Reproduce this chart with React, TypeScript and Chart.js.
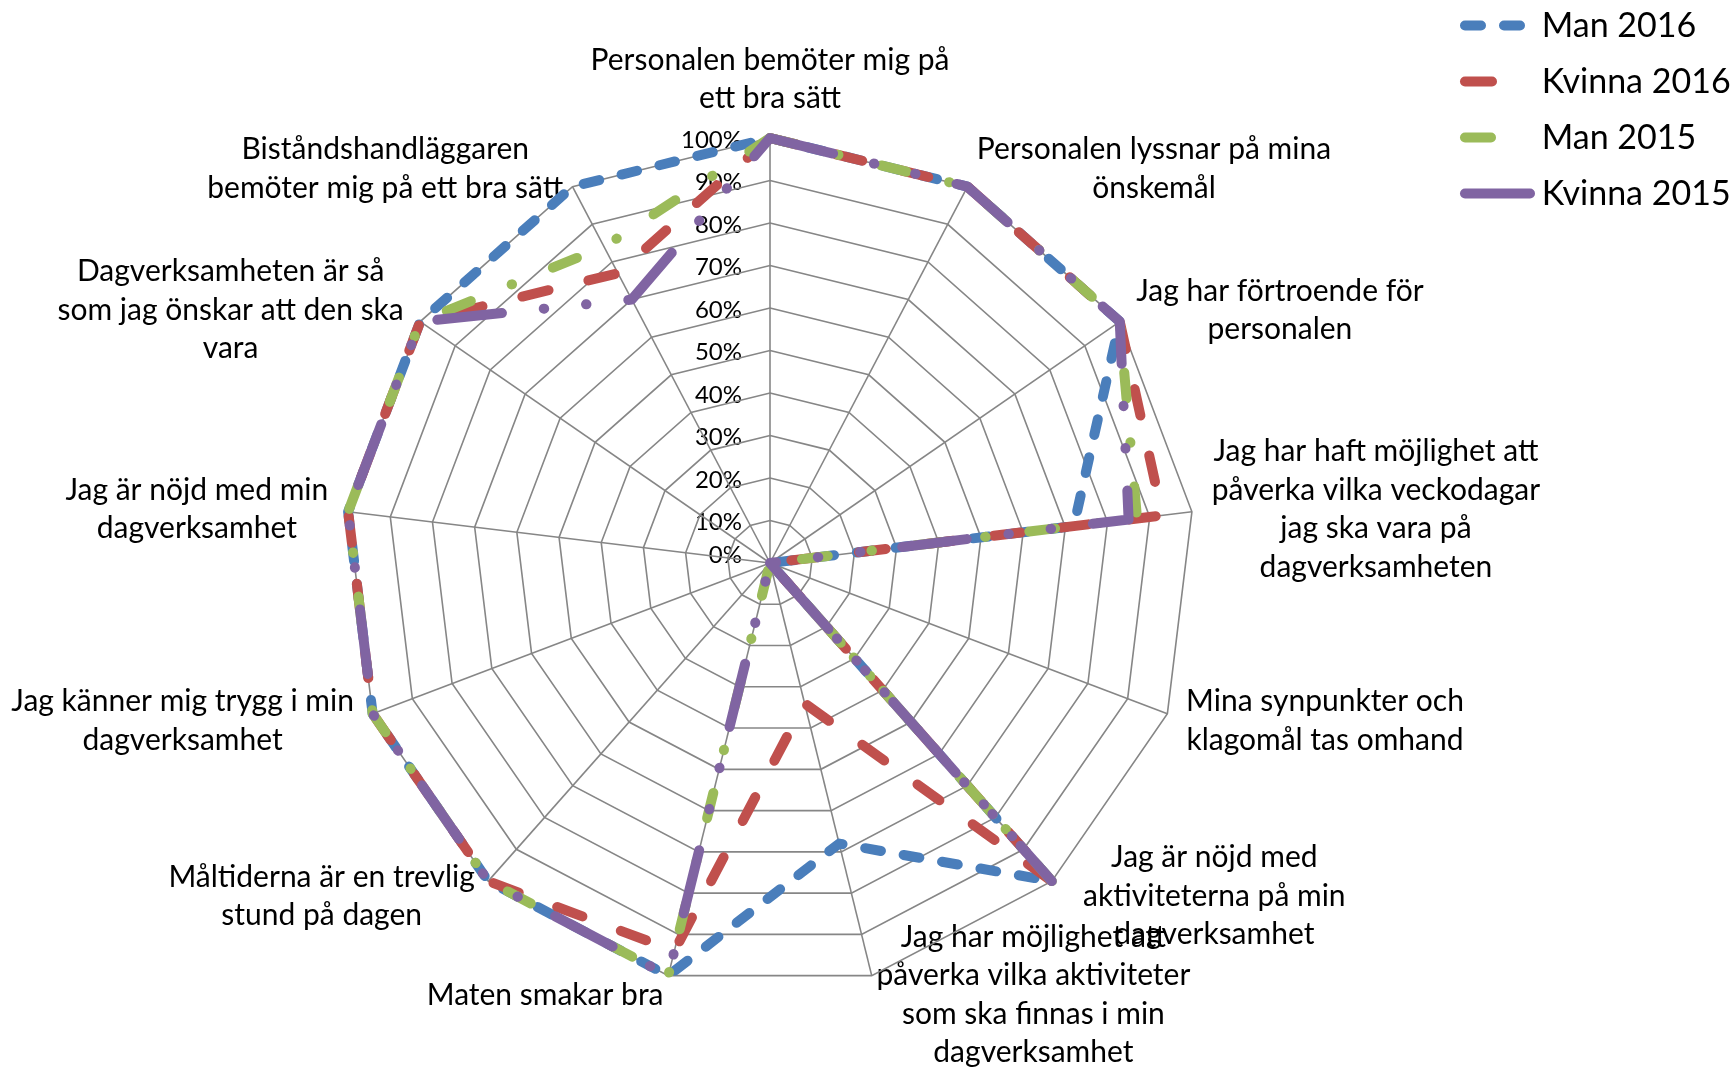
import { useEffect, useRef } from "react";
import { Chart, registerables } from "chart.js";

Chart.register(...registerables);

// ---------- data ----------
const CATEGORIES: string[][] = [
  ["Personalen bemöter mig på", "ett bra sätt"],
  ["Personalen lyssnar på mina", "önskemål"],
  ["Jag har förtroende för", "personalen"],
  ["Jag har haft möjlighet att", "påverka vilka veckodagar", "jag ska vara på", "dagverksamheten"],
  ["Mina synpunkter och", "klagomål tas omhand"],
  ["Jag är nöjd med", "aktiviteterna på min", "dagverksamhet"],
  ["Jag har möjlighet att", "påverka vilka aktiviteter", "som ska finnas i min", "dagverksamhet"],
  ["Maten smakar bra"],
  ["Måltiderna är en trevlig", "stund på dagen"],
  ["Jag känner mig trygg i min", "dagverksamhet"],
  ["Jag är nöjd med min", "dagverksamhet"],
  ["Dagverksamheten är så", "som jag önskar att den ska", "vara"],
  ["Biståndshandläggaren", "bemöter mig på ett bra sätt"],
];

const SERIES_NAMES = ["Man 2016", "Kvinna 2016", "Man 2015", "Kvinna 2015"];

const MAN_2016 = [100, 100, 100, 72, 0, 100, 68, 100, 100, 100, 100, 100, 100];
const KVINNA_2016 = [100, 100, 100, 93, 0, 100, 34, 94, 100, 100, 100, 100, 77];
const MAN_2015 = [100, 100, 100, 87, 0, 100, 0, 100, 100, 100, 100, 100, 84];
const KVINNA_2015 = [100, 100, 100, 85, 0, 100, 0, 100, 100, 100, 100, 100, 70];

const TICK_VALUES = [0, 10, 20, 30, 40, 50, 60, 70, 80, 90, 100];
const TICK_LABELS = ["0%", "10%", "20%", "30%", "40%", "50%", "60%", "70%", "80%", "90%", "100%"];

// ---------- style ----------
const FONT = "Lato, 'Open Sans', sans-serif";
const LABEL_FONT = 30;
const TICK_FONT = 24;
const LEGEND_FONT = 34;
const LINE_H = 38.5;
const LINE_W = 10;
const GRID = "#868686";
const COLORS = ["#4A7EBB", "#C0504D", "#9BBB59", "#8064A2"];
const DASHES = [
  [16, 23],
  [27, 41],
  [26, 44, 0.5, 44],
  [65, 42, 0.5, 42, 0.5, 42],
];
const LABEL_GAP = 20;
const LABEL_SHIFT: Record<number, number> = { 5: 18 };

const textPlugin = {
  id: "excelText",
  beforeDraw(chart: any) {
    const ctx = chart.ctx as CanvasRenderingContext2D;
    const s = chart.scales.r;
    ctx.save();
    ctx.fillStyle = "#000";
    // tick labels
    ctx.font = `${TICK_FONT}px ${FONT}`;
    ctx.textAlign = "right";
    ctx.textBaseline = "middle";
    TICK_VALUES.forEach((v, i) => {
      const d = s.getDistanceFromCenterForValue(v);
      const y = Math.min(s.yCenter - d + 2, s.yCenter - 8);
      ctx.fillText(TICK_LABELS[i], s.xCenter - 28, y);
    });
    // category labels
    ctx.font = `${LABEL_FONT}px ${FONT}`;
    ctx.textAlign = "center";
    const n = CATEGORIES.length;
    CATEGORIES.forEach((lines, i) => {
      const p = s.getPointPosition(i, s.drawingArea + LABEL_GAP);
      const sin = Math.sin((i * 2 * Math.PI) / n);
      const bw = Math.max(...lines.map((l) => ctx.measureText(l).width));
      const shift = LABEL_SHIFT[i] || 0;
      let cx: number;
      let top: number;
      if (Math.abs(sin) < 0.05) {
        cx = p.x;
        top = p.y - lines.length * LINE_H;
      } else if (sin > 0) {
        cx = p.x + bw / 2 + shift;
        top = p.y - (lines.length * LINE_H) / 2;
      } else {
        cx = p.x - bw / 2 - shift;
        top = p.y - (lines.length * LINE_H) / 2;
      }
      lines.forEach((l, k) => ctx.fillText(l, cx, top + LINE_H * (k + 0.5)));
    });
    ctx.restore();
  },
  afterDraw(chart: any) {
    const ctx = chart.ctx as CanvasRenderingContext2D;
    const x0 = chart.width - 266;
    const x1 = chart.width - 199;
    const tx = chart.width - 189.3;
    ctx.save();
    ctx.font = `${LEGEND_FONT}px ${FONT}`;
    ctx.textAlign = "left";
    ctx.textBaseline = "middle";
    SERIES_NAMES.forEach((name, i) => {
      const y = 25.5 + i * 56;
      ctx.strokeStyle = COLORS[i];
      ctx.lineWidth = LINE_W;
      ctx.lineCap = "round";
      ctx.setLineDash(DASHES[i]);
      ctx.beginPath();
      ctx.moveTo(x0, y);
      ctx.lineTo(x1, y);
      ctx.stroke();
      ctx.setLineDash([]);
      ctx.fillStyle = "#000";
      ctx.fillText(name, tx, y + 1);
    });
    ctx.restore();
  },
};

export default function App() {
  const ref = useRef<HTMLCanvasElement | null>(null);
  useEffect(() => {
    if (!ref.current) return;
    const series = [MAN_2016, KVINNA_2016, MAN_2015, KVINNA_2015];
    const chart = new Chart(ref.current, {
      type: "radar",
      data: {
        labels: CATEGORIES,
        datasets: series.map((d, i) => ({
          label: SERIES_NAMES[i],
          data: d,
          borderColor: COLORS[i],
          backgroundColor: COLORS[i],
          borderWidth: LINE_W,
          borderDash: DASHES[i],
          borderCapStyle: "round",
          borderJoinStyle: "round",
          fill: false,
          pointRadius: 0,
          pointHoverRadius: 0,
          order: 3 - i,
        })),
      },
      options: {
        responsive: false,
        animation: false,
        layout: { padding: { left: 345, right: 536, top: 138, bottom: 82 } },
        plugins: { legend: { display: false }, tooltip: { enabled: false } },
        elements: { line: { tension: 0 } },
        scales: {
          r: {
            min: 0,
            max: 100,
            startAngle: 0,
            ticks: { stepSize: 10, display: false },
            grid: { circular: false, color: GRID, lineWidth: 1.6 },
            angleLines: { color: GRID, lineWidth: 1.6 },
            pointLabels: { display: false },
          },
        },
      },
      plugins: [textPlugin],
    } as any);
    return () => chart.destroy();
  }, []);
  return (
    <div style={{ position: "absolute", left: 0, top: 0, width: 1731, height: 1070, background: "#fff" }}>
      <canvas ref={ref} width={1731} height={1070} style={{ display: "block", width: 1731, height: 1070 }} />
    </div>
  );
}
